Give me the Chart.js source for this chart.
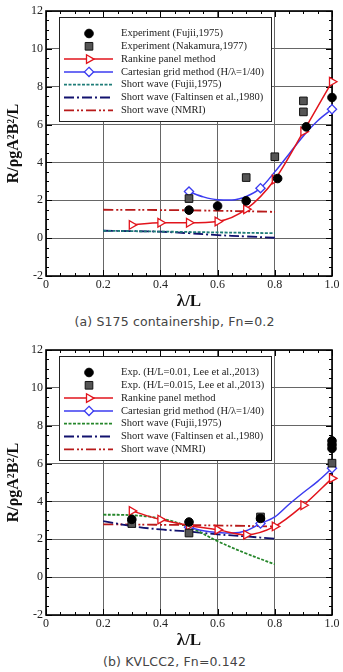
<!DOCTYPE html>
<html>
<head>
<meta charset="utf-8">
<script src="https://cdn.jsdelivr.net/npm/chart.js@4.4.1/dist/chart.umd.min.js"></script>
<style>
    body { margin: 0; background: #fff; width: 343px; height: 672px; position: relative; overflow: hidden; }
    .wrap { position: absolute; left: 0; width: 343px; height: 312px; }
    .cap { position: absolute; left: 0; width: 349px; text-align: center; font: 12.5px "DejaVu Sans", sans-serif; letter-spacing: 0.15px; color: #444; line-height: 16px; }
</style>
</head>
<body>
<div class="wrap" style="top:0"><canvas id="chartA" width="343" height="312"></canvas></div>
<div class="cap" style="top:314px">(a) S175 containership, Fn=0.2</div>
<div class="wrap" style="top:339px"><canvas id="chartB" width="343" height="312"></canvas></div>
<div class="cap" style="top:654px">(b) KVLCC2, Fn=0.142</div>
<script>
// Axis ticks
const xTicks = [0, 0.2, 0.4, 0.6, 0.8, 1];
const yTicks = [-2, 0, 2, 4, 6, 8, 10, 12];

// (a) S175 containership
const aLegend = ['Experiment (Fujii,1975)', 'Experiment (Nakamura,1977)', 'Rankine panel method',
    'Cartesian grid method (H/\u03bb=1/40)', 'Short wave (Fujii,1975)', 'Short wave (Faltinsen et al.,1980)', 'Short wave (NMRI)'];
const aExpFujiiX = [0.5, 0.6, 0.7, 0.81, 0.91, 1.0];
const aExpFujiiY = [1.48, 1.7, 1.97, 3.15, 5.88, 7.43];
const aExpNakX = [0.5, 0.7, 0.8, 0.9, 0.9];
const aExpNakY = [2.09, 3.2, 4.3, 7.25, 6.67];
const aRankX = [0.3, 0.4, 0.5, 0.6, 0.7, 0.8, 0.9, 1.0];
const aRankY = [0.70, 0.81, 0.81, 0.88, 1.53, 3.1, 5.63, 8.26];
const aCartX = [0.5, 0.55, 0.6, 0.65, 0.7, 0.75, 0.8, 0.85, 0.9, 0.95, 1.0];
const aCartY = [2.46, 2.18, 2.03, 2.02, 2.2, 2.64, 3.5, 4.45, 5.4, 6.2, 6.81];
const aCartMarked = [1, 0, 0, 0, 0, 1, 0, 0, 0, 0, 1];
const aSwFujiiX = [0.2, 0.8];
const aSwFujiiY = [0.39, 0.26];
const aSwFaltX = [0.2, 0.3, 0.4, 0.5, 0.6, 0.7, 0.8];
const aSwFaltY = [0.39, 0.37, 0.34, 0.26, 0.16, 0.09, 0.02];
const aSwNmriX = [0.2, 0.5, 0.8];
const aSwNmriY = [1.5, 1.47, 1.39];

// (b) KVLCC2
const bLegend = ['Exp. (H/L=0.01, Lee et al.,2013)', 'Exp. (H/L=0.015, Lee et al.,2013)', 'Rankine panel method',
    'Cartesian grid method (H/\u03bb=1/40)', 'Short wave (Fujii,1975)', 'Short wave (Faltinsen et al.,1980)', 'Short wave (NMRI)'];
const bExp1X = [0.3, 0.5, 0.75, 1.0, 1.0, 1.0];
const bExp1Y = [3.05, 2.91, 3.1, 6.8, 7.0, 7.2];
const bExp2X = [0.3, 0.5, 0.75, 1.0];
const bExp2Y = [2.83, 2.33, 3.18, 6.02];
const bRankX = [0.3, 0.4, 0.5, 0.6, 0.7, 0.8, 0.9, 1.0];
const bRankY = [3.5, 3.04, 2.73, 2.5, 2.24, 2.68, 3.8, 5.22];
const bCartX = [0.5, 0.55, 0.6, 0.65, 0.7, 0.75, 0.8, 0.85, 0.9, 0.95, 1.0];
const bCartY = [2.64, 2.45, 2.36, 2.33, 2.45, 2.83, 3.18, 3.85, 4.47, 5.06, 5.75];
const bCartMarked = [1, 0, 0, 0, 0, 1, 0, 0, 0, 0, 1];
const bSwFujiiX = [0.2, 0.3, 0.4, 0.5, 0.6, 0.7, 0.8];
const bSwFujiiY = [3.3, 3.27, 3.1, 2.65, 1.9, 1.25, 0.68];
const bSwFaltX = [0.2, 0.3, 0.4, 0.5, 0.6, 0.7, 0.8];
const bSwFaltY = [2.96, 2.7, 2.52, 2.41, 2.26, 2.15, 2.03];
const bSwNmriX = [0.2, 0.5, 0.8];
const bSwNmriY = [2.79, 2.75, 2.68];

const SERIF = '"Liberation Serif", "Times New Roman", serif';

function pts(xs, ys) {
    return xs.map((x, i) => ({ x: x, y: ys[i] }));
}

// Marker drawing shared by legend
function drawMarker(ctx, style, x, y, r, rot) {
    ctx.beginPath();
    if (style === 'circle') {
        ctx.arc(x, y, r, 0, Math.PI * 2);
    } else if (style === 'rect') {
        const s = r * Math.SQRT1_2;
        ctx.rect(x - s, y - s, 2 * s, 2 * s);
    } else if (style === 'rectRot') {
        ctx.moveTo(x, y - r); ctx.lineTo(x + r, y); ctx.lineTo(x, y + r); ctx.lineTo(x - r, y); ctx.closePath();
    } else if (style === 'triangle') {
        let a = (rot || 0) * Math.PI / 180;
        for (let k = 0; k < 3; k++) {
            const px = x + Math.sin(a) * r, py = y - Math.cos(a) * r;
            if (k === 0) ctx.moveTo(px, py); else ctx.lineTo(px, py);
            a += Math.PI * 2 / 3;
        }
        ctx.closePath();
    }
    ctx.fill();
    ctx.stroke();
}

// Frame with inward major/minor ticks
const framePlugin = {
    id: 'frame',
    beforeDatasetsDraw(chart) {
        const { ctx, chartArea: a, scales: { x, y } } = chart;
        ctx.save();
        ctx.strokeStyle = '#000';
        ctx.lineWidth = 1;
        ctx.beginPath();
        for (let i = 0; i <= 20; i++) {
            const px = Math.round(x.getPixelForValue(i * 0.05)) + 0.5;
            const len = i % 4 === 0 ? 6 : 3;
            ctx.moveTo(px, a.bottom); ctx.lineTo(px, a.bottom - len);
            ctx.moveTo(px, a.top); ctx.lineTo(px, a.top + len);
        }
        for (let i = 0; i <= 28; i++) {
            const py = Math.round(y.getPixelForValue(-2 + i * 0.5)) + 0.5;
            const len = i % 4 === 0 ? 6 : 3;
            ctx.moveTo(a.left, py); ctx.lineTo(a.left + len, py);
            ctx.moveTo(a.right, py); ctx.lineTo(a.right - len, py);
        }
        ctx.stroke();
        ctx.lineWidth = 1.6;
        ctx.strokeRect(a.left, a.top, a.width, a.height);
        ctx.restore();
    }
};

// Boxed legend inside plot
const boxLegendPlugin = {
    id: 'boxLegend',
    afterDatasetsDraw(chart, args, opts) {
        const { ctx, chartArea: a } = chart;
        const bx = a.left + 13, by = a.top + 6, bw = 212, bh = 104;
        ctx.save();
        ctx.fillStyle = '#fff';
        ctx.fillRect(bx, by, bw, bh);
        ctx.strokeStyle = '#222';
        ctx.lineWidth = 1;
        ctx.strokeRect(bx + 0.5, by + 0.5, bw, bh);
        ctx.font = '10.5px ' + SERIF;
        ctx.textBaseline = 'middle';
        chart.data.datasets.forEach((ds, i) => {
            const cy = by + 16.5 + i * 12.8;
            if (ds.showLine) {
                ctx.strokeStyle = ds.borderColor;
                ctx.lineWidth = ds.borderWidth;
                ctx.setLineDash(ds.borderDash || []);
                ctx.beginPath();
                ctx.moveTo(bx + 5, cy); ctx.lineTo(bx + 54, cy);
                ctx.stroke();
                ctx.setLineDash([]);
            }
            if (ds.legendMarker) {
                ctx.fillStyle = ds.pointBackgroundColor;
                ctx.strokeStyle = ds.pointBorderColor;
                ctx.lineWidth = ds.pointBorderWidth;
                drawMarker(ctx, ds.pointStyle, bx + 30, cy, ds.legendRadius, ds.pointRotation);
            }
            ctx.fillStyle = '#222';
            ctx.fillText(opts.labels[i], bx + 62, cy);
        });
        ctx.restore();
    }
};

function makeChart(id, legend, sets) {
    const ctx = document.getElementById(id).getContext('2d');
    return new Chart(ctx, {
        type: 'scatter',
        data: { datasets: sets },
        options: {
            responsive: false,
            animation: false,
            layout: { padding: { top: 11, right: 11, left: 0, bottom: 0 } },
            plugins: {
                legend: { display: false },
                tooltip: { enabled: false },
                boxLegend: { labels: legend }
            },
            scales: {
                x: {
                    type: 'linear', min: 0, max: 1,
                    afterBuildTicks: s => { s.ticks = xTicks.map(v => ({ value: v })); },
                    afterFit: s => { s.height = 36; },
                    ticks: { font: { size: 12, family: SERIF }, color: '#222', padding: 2 },
                    grid: { color: '#666', lineWidth: 1, drawTicks: false },
                    border: { display: false },
                    title: { display: true, text: '\u03bb/L', color: '#111', font: { size: 17, weight: 'bold', family: SERIF }, padding: { top: 0, bottom: 0 } }
                },
                y: {
                    type: 'linear', min: -2, max: 12,
                    afterBuildTicks: s => { s.ticks = yTicks.map(v => ({ value: v })); },
                    afterFit: s => { s.width = 46; },
                    ticks: { font: { size: 12, family: SERIF }, color: '#222', padding: 3 },
                    grid: { color: '#666', lineWidth: 1, drawTicks: false },
                    border: { display: false },
                    title: { display: true, text: 'R/\u03c1gA\u00b2B\u00b2/L', color: '#111', font: { size: 16, weight: 'bold', family: SERIF }, padding: { top: 4, bottom: 0 } }
                }
            }
        },
        plugins: [framePlugin, boxLegendPlugin]
    });
}

function circles(xs, ys) {
    return { data: pts(xs, ys), showLine: false, pointStyle: 'circle', pointRadius: 4.3, legendRadius: 4.3,
        pointBackgroundColor: '#000', pointBorderColor: '#000', pointBorderWidth: 1, legendMarker: true, clip: false };
}
function squares(xs, ys) {
    return { data: pts(xs, ys), showLine: false, pointStyle: 'rect', pointRadius: 5.4, legendRadius: 5.4,
        pointBackgroundColor: '#555', pointBorderColor: '#111', pointBorderWidth: 1, legendMarker: true, clip: false };
}
function rankine(xs, ys) {
    return { data: pts(xs, ys), showLine: true, borderColor: '#e2141c', borderWidth: 1.5, cubicInterpolationMode: 'monotone',
        pointStyle: 'triangle', pointRotation: 90, pointRadius: 5, legendRadius: 5,
        pointBackgroundColor: '#fff', pointBorderColor: '#e2141c', pointBorderWidth: 1.3, legendMarker: true, clip: false };
}
function cartesian(xs, ys, marked) {
    return { data: pts(xs, ys), showLine: true, borderColor: '#3b3bf0', borderWidth: 1.5, cubicInterpolationMode: 'monotone',
        pointStyle: 'rectRot', pointRadius: marked.map(m => m ? 4.6 : 0), legendRadius: 4.6,
        pointBackgroundColor: '#fff', pointBorderColor: '#3b3bf0', pointBorderWidth: 1.3, legendMarker: true, clip: false };
}
function shortWave(xs, ys, color, dash) {
    return { data: pts(xs, ys), showLine: true, borderColor: color, borderWidth: 1.8, borderDash: dash,
        tension: 0.4, pointRadius: 0, legendMarker: false, clip: false };
}

makeChart('chartA', aLegend, [
    circles(aExpFujiiX, aExpFujiiY),
    squares(aExpNakX, aExpNakY),
    rankine(aRankX, aRankY),
    cartesian(aCartX, aCartY, aCartMarked),
    shortWave(aSwFujiiX, aSwFujiiY, '#1f7d78', [3, 1.5]),
    shortWave(aSwFaltX, aSwFaltY, '#12126e', [10, 3, 2, 3]),
    shortWave(aSwNmriX, aSwNmriY, '#b81a1a', [10, 3, 2, 2, 2, 3])
]);

makeChart('chartB', bLegend, [
    circles(bExp1X, bExp1Y),
    squares(bExp2X, bExp2Y),
    rankine(bRankX, bRankY),
    cartesian(bCartX, bCartY, bCartMarked),
    shortWave(bSwFujiiX, bSwFujiiY, '#25862a', [3, 1.5]),
    shortWave(bSwFaltX, bSwFaltY, '#12126e', [10, 3, 2, 3]),
    shortWave(bSwNmriX, bSwNmriY, '#b81a1a', [10, 3, 2, 2, 2, 3])
]);
</script>
</body>
</html>
